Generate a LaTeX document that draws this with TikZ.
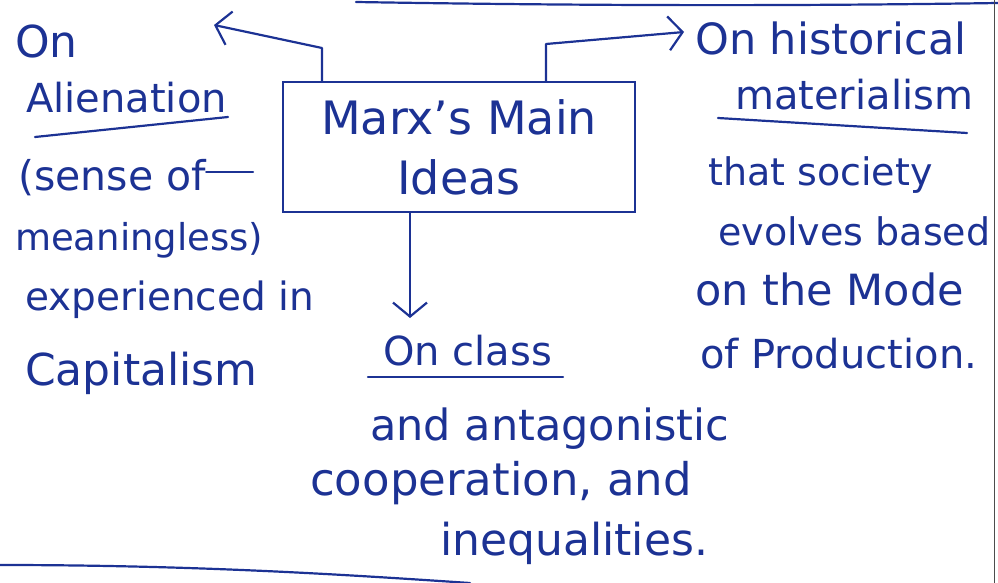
\documentclass[tikz,border=0pt]{standalone}
\usepackage{fontspec}
\setmainfont{DejaVu Sans}
\usetikzlibrary{arrows.meta,positioning}
\definecolor{ink}{RGB}{28,50,148}

\begin{document}
\begin{tikzpicture}[x=1pt,y=-1pt,
  hand/.style={ink,font=\fontsize{#1}{#1}\selectfont,inner sep=0pt,anchor=base west},
  hand/.default=38,
  pen/.style={ink,line width=2.2pt,line cap=round,line join=round},
  tip/.style={-{Straight Barb[length=14pt,width=34pt]}},
  mainbox/.style={draw=ink,line width=2.2pt,minimum width=352pt,minimum height=130pt,
    align=center,text=ink,font=\fontsize{46}{60}\selectfont}]
\useasboundingbox (0,0) rectangle (998,583);
% page edges
\draw [pen] (356,2) .. controls (600,6) and (800,6) .. (998,3);
\draw [pen] (0,565) .. controls (200,565) and (350,575) .. (470,583);
\draw [gray!60!black,line width=1pt] (994,0) -- (994,583);
% centre box
\node [mainbox] (main) at (459,147) {Marx's Main\\Ideas};
% left block
\node [hand=44] (on1) at (15,58) {On};
\node [hand=40] (alien) at (26,113) {Alienation};
\draw [pen] (35,137) -- (228,117);
\node [hand=41] (sense) at (18,190) {(sense of};
\node [hand=37] (meaning) at (15,250) {meaningless)};
\node [hand=39] (exper) at (25,310) {experienced in};
\node [hand=44] (capital) at (25,385) {Capitalism};
\coordinate (senseend) at (253,172);
\draw [pen] (sense.east |- senseend) -- (senseend);
% right block
\node [hand=43] (on2) at (695,55) {On historical};
\node [hand=40] (mater) at (735,110) {materialism};
\draw [pen] (718,118) -- (967,133);
\node [hand] (soc) at (708,185) {that society};
\node [hand] (evol) at (718,245) {evolves based};
\node [hand=43] (mode) at (695,305) {on the Mode};
\node [hand=40] (prod) at (700,368) {of Production.};
% bottom block
\node [hand=40] (on3) at (383,365) {On class};
\draw [pen] (368,377) -- (563,377);
\node [hand=43] (antag) at (370,440) {and antagonistic};
\node [hand=45] (coop) at (310,495) {cooperation, and};
\node [hand=44] (ineq) at (440,555) {inequalities.};
% arrows
\coordinate (lbend) at (322,48);
\coordinate (ltip) at (214,25);
\draw [pen,tip] (lbend |- main.north) -- (lbend) -- (ltip);
\coordinate (rbend) at (546,44);
\coordinate (rtip) at (684,32);
\draw [pen,tip] (rbend |- main.north) -- (rbend) -- (rtip);
\coordinate (dtip) at (410,318);
\draw [pen,tip] (dtip |- main.south) -- (dtip);
\end{tikzpicture}
\end{document}
